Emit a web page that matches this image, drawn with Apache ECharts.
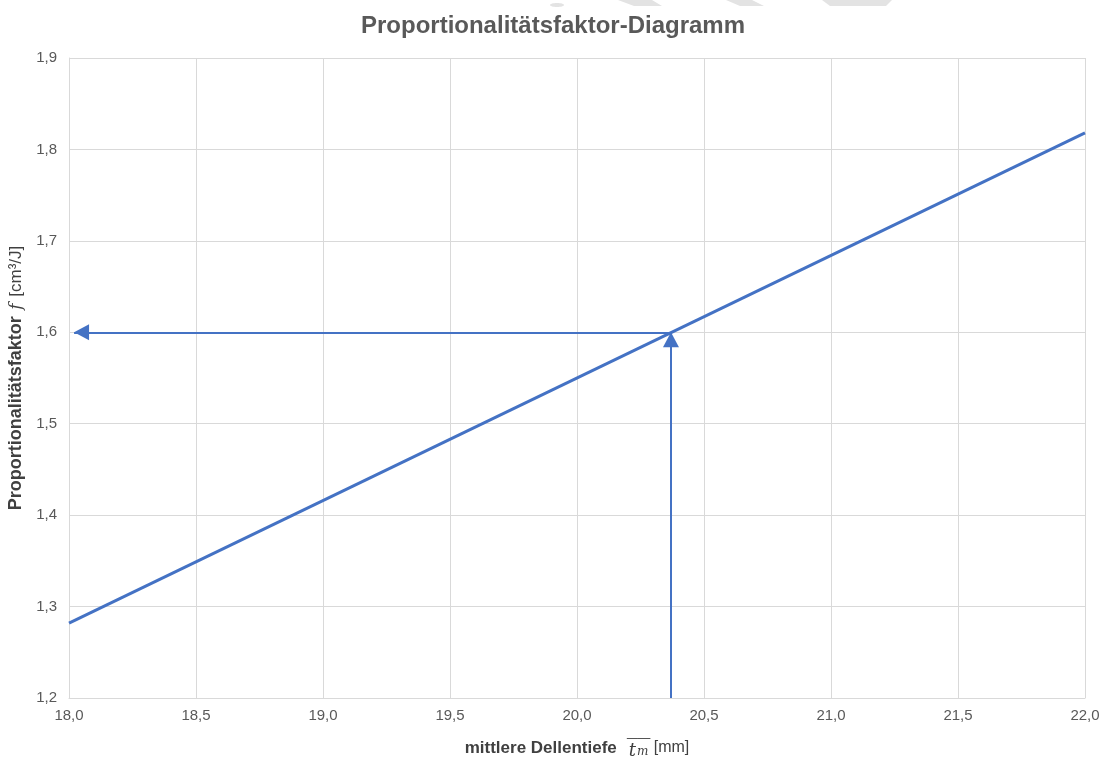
<!DOCTYPE html>
<html><head><meta charset="utf-8">
<script src="https://cdn.jsdelivr.net/npm/echarts@6/dist/echarts.min.js"></script>
<style>html,body{margin:0;padding:0;background:#fff}#c{width:1106px;height:758px}</style>
</head><body><div id="c"></div>
<script>
var lineX = [18.0, 22.0];
var lineY = [1.282, 1.818];
var readX = 20.37;
var readY = 1.6;
var arrowEndX = 18.02;
var xTicks = [18.0, 18.5, 19.0, 19.5, 20.0, 20.5, 21.0, 21.5, 22.0];
var yTicks = [1.2, 1.3, 1.4, 1.5, 1.6, 1.7, 1.8, 1.9];

var chart = echarts.init(document.getElementById('c'));
var blue = '#4472c4';
var dark = '#404040';
var fmt = function(v){ return v.toFixed(1).replace('.', ','); };
var overline = new echarts.graphic.LinearGradient(0, 0, 0, 1, [
  {offset: 0, color: '#555'}, {offset: 0.07, color: '#555'},
  {offset: 0.071, color: 'rgba(255,255,255,0)'}, {offset: 1, color: 'rgba(255,255,255,0)'}
]);
chart.setOption({
  animation: false,
  title: {
    text: 'Proportionalitätsfaktor-Diagramm',
    left: 'center', top: 9,
    textStyle: {fontFamily: 'Liberation Sans', fontSize: 24, fontWeight: 'bold', color: '#595959'}
  },
  graphic: [
    {type:'ellipse', shape:{cx:557, cy:5, rx:7, ry:2}, style:{fill:'#e3e3e3'}},
    {type:'polygon', shape:{points:[[618,0],[652,0],[662,6],[634,6]]}, style:{fill:'#e3e3e3'}},
    {type:'polygon', shape:{points:[[726,0],[752,0],[764,6],[740,6]]}, style:{fill:'#e3e3e3'}},
    {type:'polygon', shape:{points:[[822,0],[892,0],[886,6],[830,6]]}, style:{fill:'#e3e3e3'}}
  ],
  grid: {left: 69, right: 21, top: 58, bottom: 60, containLabel: false, outerBoundsMode: 'none'},
  xAxis: {
    type: 'value', min: 18.0, max: 22.0, interval: 0.5,
    axisLine: {show: true, lineStyle: {color: '#d9d9d9'}},
    axisTick: {show: false},
    splitLine: {show: true, lineStyle: {color: '#d9d9d9'}},
    axisLabel: {formatter: fmt, color: '#595959', fontSize: 15, fontFamily: 'Liberation Sans', margin: 10},
    name: '{b|mittlere Dellentiefe}   {t|t}{m|m} {n|[mm]}',
    nameLocation: 'middle', nameGap: 40,
    nameTextStyle: {
      rich: {
        b: {fontFamily: 'Liberation Sans', fontSize: 17, fontWeight: 'bold', color: dark},
        t: {fontFamily: 'DejaVu Serif', fontStyle: 'italic', fontSize: 18, color: dark,
            height: 14, padding: [6, 1, 0, 2], backgroundColor: overline},
        m: {fontFamily: 'DejaVu Serif', fontStyle: 'italic', fontSize: 12, color: dark,
            height: 12, padding: [8, 2, 0, 0], backgroundColor: overline},
        n: {fontFamily: 'Liberation Sans', fontSize: 16, color: dark}
      }
    }
  },
  yAxis: {
    type: 'value', min: 1.2, max: 1.9, interval: 0.1,
    axisLine: {show: true, lineStyle: {color: '#d9d9d9'}},
    axisTick: {show: false},
    splitLine: {show: true, lineStyle: {color: '#d9d9d9'}},
    axisLabel: {formatter: fmt, color: '#595959', fontSize: 15, fontFamily: 'Liberation Sans', margin: 12},
    name: '{b|Proportionalitätsfaktor}  {f|f}  {n|[cm³/J]}',
    nameLocation: 'middle', nameGap: 38,
    nameTextStyle: {
      rich: {
        b: {fontFamily: 'Liberation Sans', fontSize: 18, fontWeight: 'bold', color: dark},
        f: {fontFamily: 'DejaVu Serif', fontStyle: 'italic', fontSize: 17, color: dark},
        n: {fontFamily: 'Liberation Sans', fontSize: 17, color: dark}
      }
    }
  },
  series: [{
    type: 'line',
    data: [[lineX[0], lineY[0]], [lineX[1], lineY[1]]],
    symbol: 'none',
    lineStyle: {color: blue, width: 3},
    markLine: {
      silent: true,
      symbol: ['none', 'triangle'],
      symbolSize: [16, 15],
      symbolOffset: [[0, 0], [0, 7.5]],
      label: {show: false},
      lineStyle: {color: blue, width: 2, type: 'solid'},
      data: [
        [{coord: [readX, 1.2]}, {coord: [readX, readY]}],
        [{coord: [readX, readY]}, {coord: [arrowEndX, readY]}]
      ]
    }
  }]
});
</script></body></html>
